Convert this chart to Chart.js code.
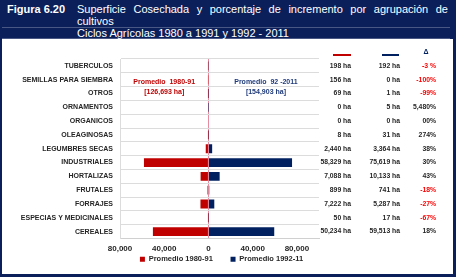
<!DOCTYPE html>
<html>
<head>
<meta charset="utf-8">
<script src="https://cdn.jsdelivr.net/npm/chart.js@4/dist/chart.umd.min.js"></script>
<style>
    body { margin: 0; background: #fff; }
    #frame {
        position: relative; width: 456px; height: 277px; box-sizing: border-box;
        border-left: 2px solid #0b1f5b; border-right: 3px solid #0b1f5b; border-bottom: 3px solid #0b1f5b;
        font-family: "Liberation Sans", Arial, sans-serif; overflow: hidden;
    }
    #head {
        position: absolute; left: -2px; top: 0; width: 456px; height: 39px;
        background: #0b1f5b; color: #fff; font-size: 11px;
    }
    #fig { position: absolute; left: 7px; top: 3px; font-weight: bold; }
    #title { position: absolute; left: 77px; top: 3px; width: 371px; line-height: 12px; text-align: justify; }
    #sub { position: absolute; left: 77px; top: 28px; line-height: 11px; }
    #sep1 { position: absolute; left: 0; top: 27px; width: 450px; height: 1px; background: rgba(255,255,255,0.25); }
    #sep2 { position: absolute; left: 0; top: 38px; width: 450px; height: 1px; background: rgba(255,255,255,0.25); }
    #box { position: absolute; left: 0; top: 39px; width: 451px; height: 235px; }
</style>
</head>
<body>
<div id="frame">
    <div id="head">
        <div id="fig">Figura 6.20</div>
        <div id="title">Superficie Cosechada y porcentaje de incremento por agrupación de cultivos</div>
        <div id="sep1"></div>
        <div id="sub">Ciclos Agrícolas 1980 a 1991 y 1992 - 2011</div>
        <div id="sep2"></div>
    </div>
    <div id="box"><canvas id="chart"></canvas></div>
</div>
<script>
// Crop groups, top to bottom
const categories = ['TUBERCULOS', 'SEMILLAS PARA SIEMBRA', 'OTROS', 'ORNAMENTOS', 'ORGANICOS',
    'OLEAGINOSAS', 'LEGUMBRES SECAS', 'INDUSTRIALES', 'HORTALIZAS', 'FRUTALES', 'FORRAJES',
    'ESPECIAS Y MEDICINALES', 'CEREALES'];

// Average harvested area (ha)
const avg8091 = [198, 156, 69, 0, 0, 8, 2440, 58329, 7088, 899, 7222, 50, 50234];
const avg9211 = [192, 0, 1, 5, 0, 31, 3364, 75619, 10133, 741, 5287, 17, 59513];

// Change column as printed
const deltaLabels = ['-3 %', '-100%', '-99%', '5,480%', '00%', '274%', '38%', '30%', '43%',
    '-18%', '-27%', '-67%', '18%'];

const xTicks = [-80000, -40000, 0, 40000, 80000];

const RED = '#c00000';
const NAVY = '#002060';
const fmt = v => Math.abs(v).toLocaleString('en-US');

const total8091 = avg8091.reduce((a, b) => a + b, 0);
const total9211 = avg9211.reduce((a, b) => a + b, 0);

// Value table on the right and the two average notes
const tablePlugin = {
    id: 'table',
    afterDraw(chart) {
        const ctx = chart.ctx;
        const y = chart.scales.y;
        const x = chart.scales.x;
        ctx.save();

        // column headers
        ctx.lineWidth = 2;
        ctx.strokeStyle = RED;
        ctx.beginPath(); ctx.moveTo(331, 16); ctx.lineTo(349, 16); ctx.stroke();
        ctx.strokeStyle = NAVY;
        ctx.beginPath(); ctx.moveTo(380, 16); ctx.lineTo(397, 16); ctx.stroke();
        ctx.fillStyle = NAVY;
        ctx.font = 'bold 7px Arial';
        ctx.textAlign = 'center';
        ctx.textBaseline = 'middle';
        ctx.fillText('Δ', 424, 13);

        ctx.font = 'bold 6.8px Arial';
        ctx.textAlign = 'right';
        categories.forEach((c, i) => {
            const py = y.getPixelForValue(i);
            ctx.fillStyle = '#262626';
            ctx.fillText(fmt(avg8091[i]) + ' ha', 349, py);
            ctx.fillText(fmt(avg9211[i]) + ' ha', 398, py);
            ctx.fillStyle = deltaLabels[i].startsWith('-') ? '#ff0000' : '#262626';
            ctx.fillText(deltaLabels[i], 434, py);
        });

        // average notes
        const mid = (y.getPixelForValue(1) + y.getPixelForValue(2)) / 2;
        ctx.textAlign = 'center';
        ctx.font = 'bold 7px Arial';
        ctx.fillStyle = RED;
        ctx.fillText('Promedio  1980-91', x.getPixelForValue(-40000), mid - 5);
        ctx.fillText('[' + fmt(total8091) + ' ha]', x.getPixelForValue(-40000), mid + 5);
        ctx.fillStyle = '#1f3a7a';
        ctx.fillText('Promedio  92 -2011', x.getPixelForValue(52000), mid - 5);
        ctx.fillText('[' + fmt(total9211) + ' ha]', x.getPixelForValue(52000), mid + 5);
        ctx.restore();
    }
};

new Chart(document.getElementById('chart'), {
    type: 'bar',
    data: {
        labels: categories,
        datasets: [
            {
                label: 'Promedio 1980-91',
                data: avg8091.map(v => -v),
                backgroundColor: RED,
                categoryPercentage: 0.8,
                barPercentage: 0.8
            },
            {
                label: 'Promedio 1992-11',
                data: avg9211,
                backgroundColor: NAVY,
                categoryPercentage: 0.8,
                barPercentage: 0.8
            }
        ]
    },
    options: {
        indexAxis: 'y',
        responsive: true,
        maintainAspectRatio: false,
        animation: false,
        layout: { padding: { left: 0, right: 12, top: 20, bottom: 1 } },
        plugins: {
            tooltip: { enabled: false },
            legend: {
                position: 'bottom',
                labels: {
                    boxWidth: 5,
                    boxHeight: 5,
                    padding: 1,
                    color: '#262626',
                    font: { family: 'Arial', size: 7.5, weight: 'bold' },
                    // widen the gap between the two entries without growing the legend height
                    generateLabels: chart => Chart.defaults.plugins.legend.labels.generateLabels(chart)
                        .map((l, i) => i === 0 ? { ...l, text: l.text + '\u00a0'.repeat(8) } : l)
                }
            }
        },
        scales: {
            x: {
                stacked: true,
                min: -80000,
                max: 100000,
                afterBuildTicks: s => { s.ticks = xTicks.map(v => ({ value: v })); },
                afterFit: s => { s.height = 16; },
                ticks: {
                    callback: v => fmt(v),
                    color: '#262626',
                    maxRotation: 0,
                    padding: 5,
                    font: { family: 'Arial', size: 8, weight: 'bold' }
                },
                grid: {
                    color: ctx => ctx.tick && ctx.tick.value === 0 ? 'rgba(200,0,40,0.45)' : 'transparent',
                    drawTicks: false
                },
                border: { color: '#d0d0d0' }
            },
            y: {
                stacked: true,
                afterFit: s => { s.width = 118; },
                ticks: {
                    color: '#262626',
                    padding: 7,
                    font: { family: 'Arial', size: 7, weight: 'bold' }
                },
                grid: { color: '#dcdcdc', drawTicks: false },
                border: { color: '#dcdcdc' }
            },
            // empty axis that reserves room for the value table
            table: {
                type: 'linear',
                position: 'right',
                afterFit: s => { s.width = 122; },
                ticks: { display: false },
                grid: { display: false },
                border: { display: false }
            }
        }
    },
    plugins: [tablePlugin]
});
</script>
</body>
</html>
